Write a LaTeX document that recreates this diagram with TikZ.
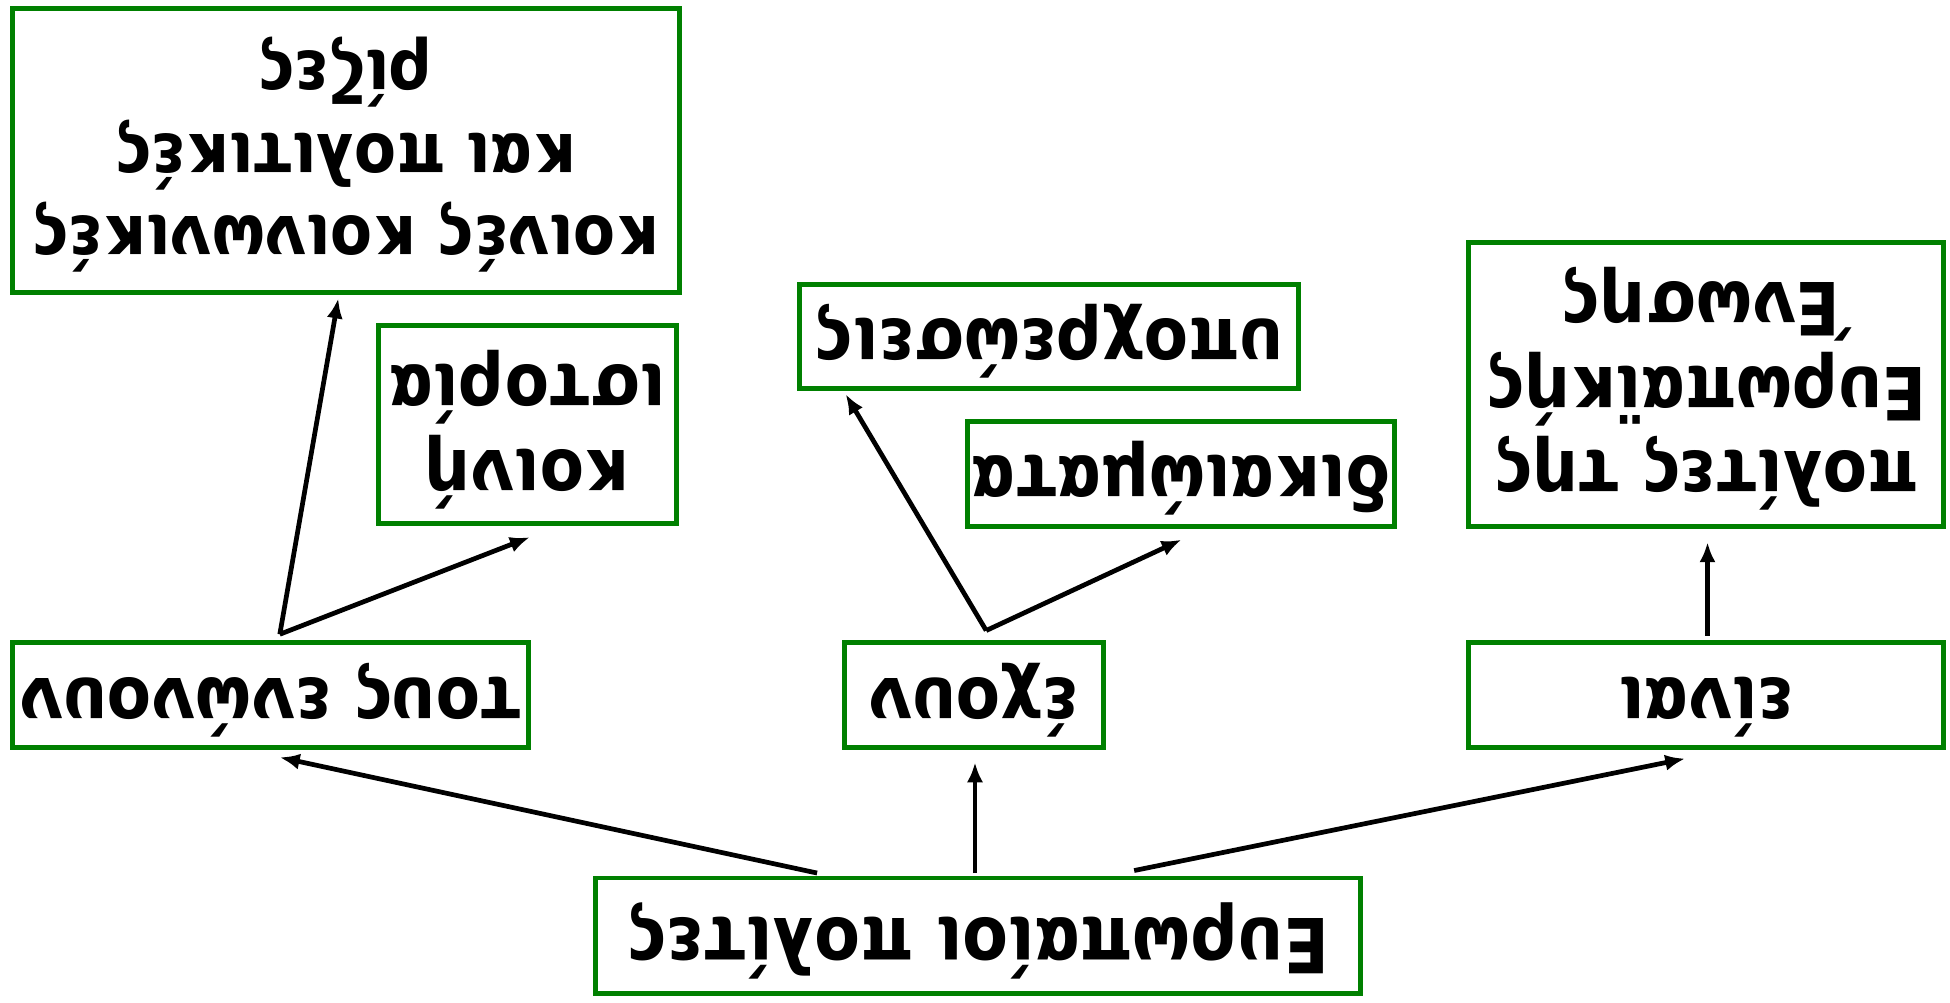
\documentclass[tikz,border=0pt]{standalone}
\usepackage{fontspec}
\setmainfont{DejaVu Sans}[FakeStretch=0.88]
\usepackage{graphicx}
\usetikzlibrary{arrows.meta}
\definecolor{boxgreen}{RGB}{0,128,0}
\newcommand{\turnedtext}[1]{\rotatebox[origin=c]{180}{\begin{tabular}{@{}c@{}}#1\end{tabular}}}
\begin{document}
\begin{tikzpicture}[x=1pt,y=-1pt,
  box/.style={draw=boxgreen,line width=4pt,rectangle,inner sep=0pt,fill=white,
    font=\fontsize{59}{68}\selectfont\bfseries},
  link/.style={draw=black,line width=3.8pt,-{Latex[length=16pt,width=13pt]}}]
\fill[white] (0,0) rectangle (1568,806);
\useasboundingbox (0,0) rectangle (1568,806);
% top row
\node[box,minimum width=536pt,minimum height=228pt,font=\fontsize{56}{66}\selectfont\bfseries] (b1) at (278,121)
  {\turnedtext{κοινές κοινωνικές\\και πολιτικές\\ρίζες}};
\node[box,minimum width=240pt,minimum height=159pt] (b2) at (424,341.5)
  {\turnedtext{κοινή\\ιστορία}};
\node[box,minimum width=401pt,minimum height=83pt] (b3) at (843.5,270.5)
  {\turnedtext{υποχρεώσεις}};
\node[box,minimum width=343pt,minimum height=84pt] (b4) at (949.5,381)
  {\turnedtext{δικαιώματα}};
\node[box,minimum width=382pt,minimum height=228pt] (b5) at (1372,309)
  {\turnedtext{πολίτες της\\Ευρωπαϊκής\\Ένωσης}};
% middle row
\node[box,minimum width=415pt,minimum height=84pt] (m1) at (217.5,559)
  {\turnedtext{τους ενώνουν}};
\node[box,minimum width=208pt,minimum height=84pt] (m2) at (783,559)
  {\turnedtext{έχουν}};
\node[box,minimum width=382pt,minimum height=84pt] (m3) at (1372,559)
  {\turnedtext{είναι}};
% root
\node[box,minimum width=615pt,minimum height=93pt,font=\fontsize{61}{70}\selectfont\bfseries] (root) at (786.5,752.5)
  {\turnedtext{Ευρωπαίοι πολίτες}};
% connectors
\draw[link] ([xshift=-129.5pt,yshift=2pt]root.north) -- ([xshift=7.5pt,yshift=-6pt]m1.south);
\draw[link] ([xshift=-2.5pt,yshift=2pt]root.north) -- ([xshift=1pt,yshift=-10pt]m2.south);
\draw[link] ([xshift=-184pt,yshift=4pt]root.north east) -- ([xshift=-17pt,yshift=-7pt]m3.south);
\draw[link] ([xshift=7.5pt,yshift=5pt]m1.north) -- ([xshift=-6pt,yshift=-3pt]b1.south);
\draw[link] ([xshift=7.5pt,yshift=5pt]m1.north) -- ([xshift=2pt,yshift=-9pt]b2.south);
\draw[link] ([xshift=10pt,yshift=8pt]m2.north) -- ([xshift=39pt,yshift=-3pt]b3.south west);
\draw[link] ([xshift=10pt,yshift=8pt]m2.north) -- ([xshift=0.5pt,yshift=-9pt]b4.south);
\draw[link] ([xshift=1pt,yshift=4pt]m3.north) -- ([xshift=1pt,yshift=-11pt]b5.south);
\end{tikzpicture}
\end{document}
